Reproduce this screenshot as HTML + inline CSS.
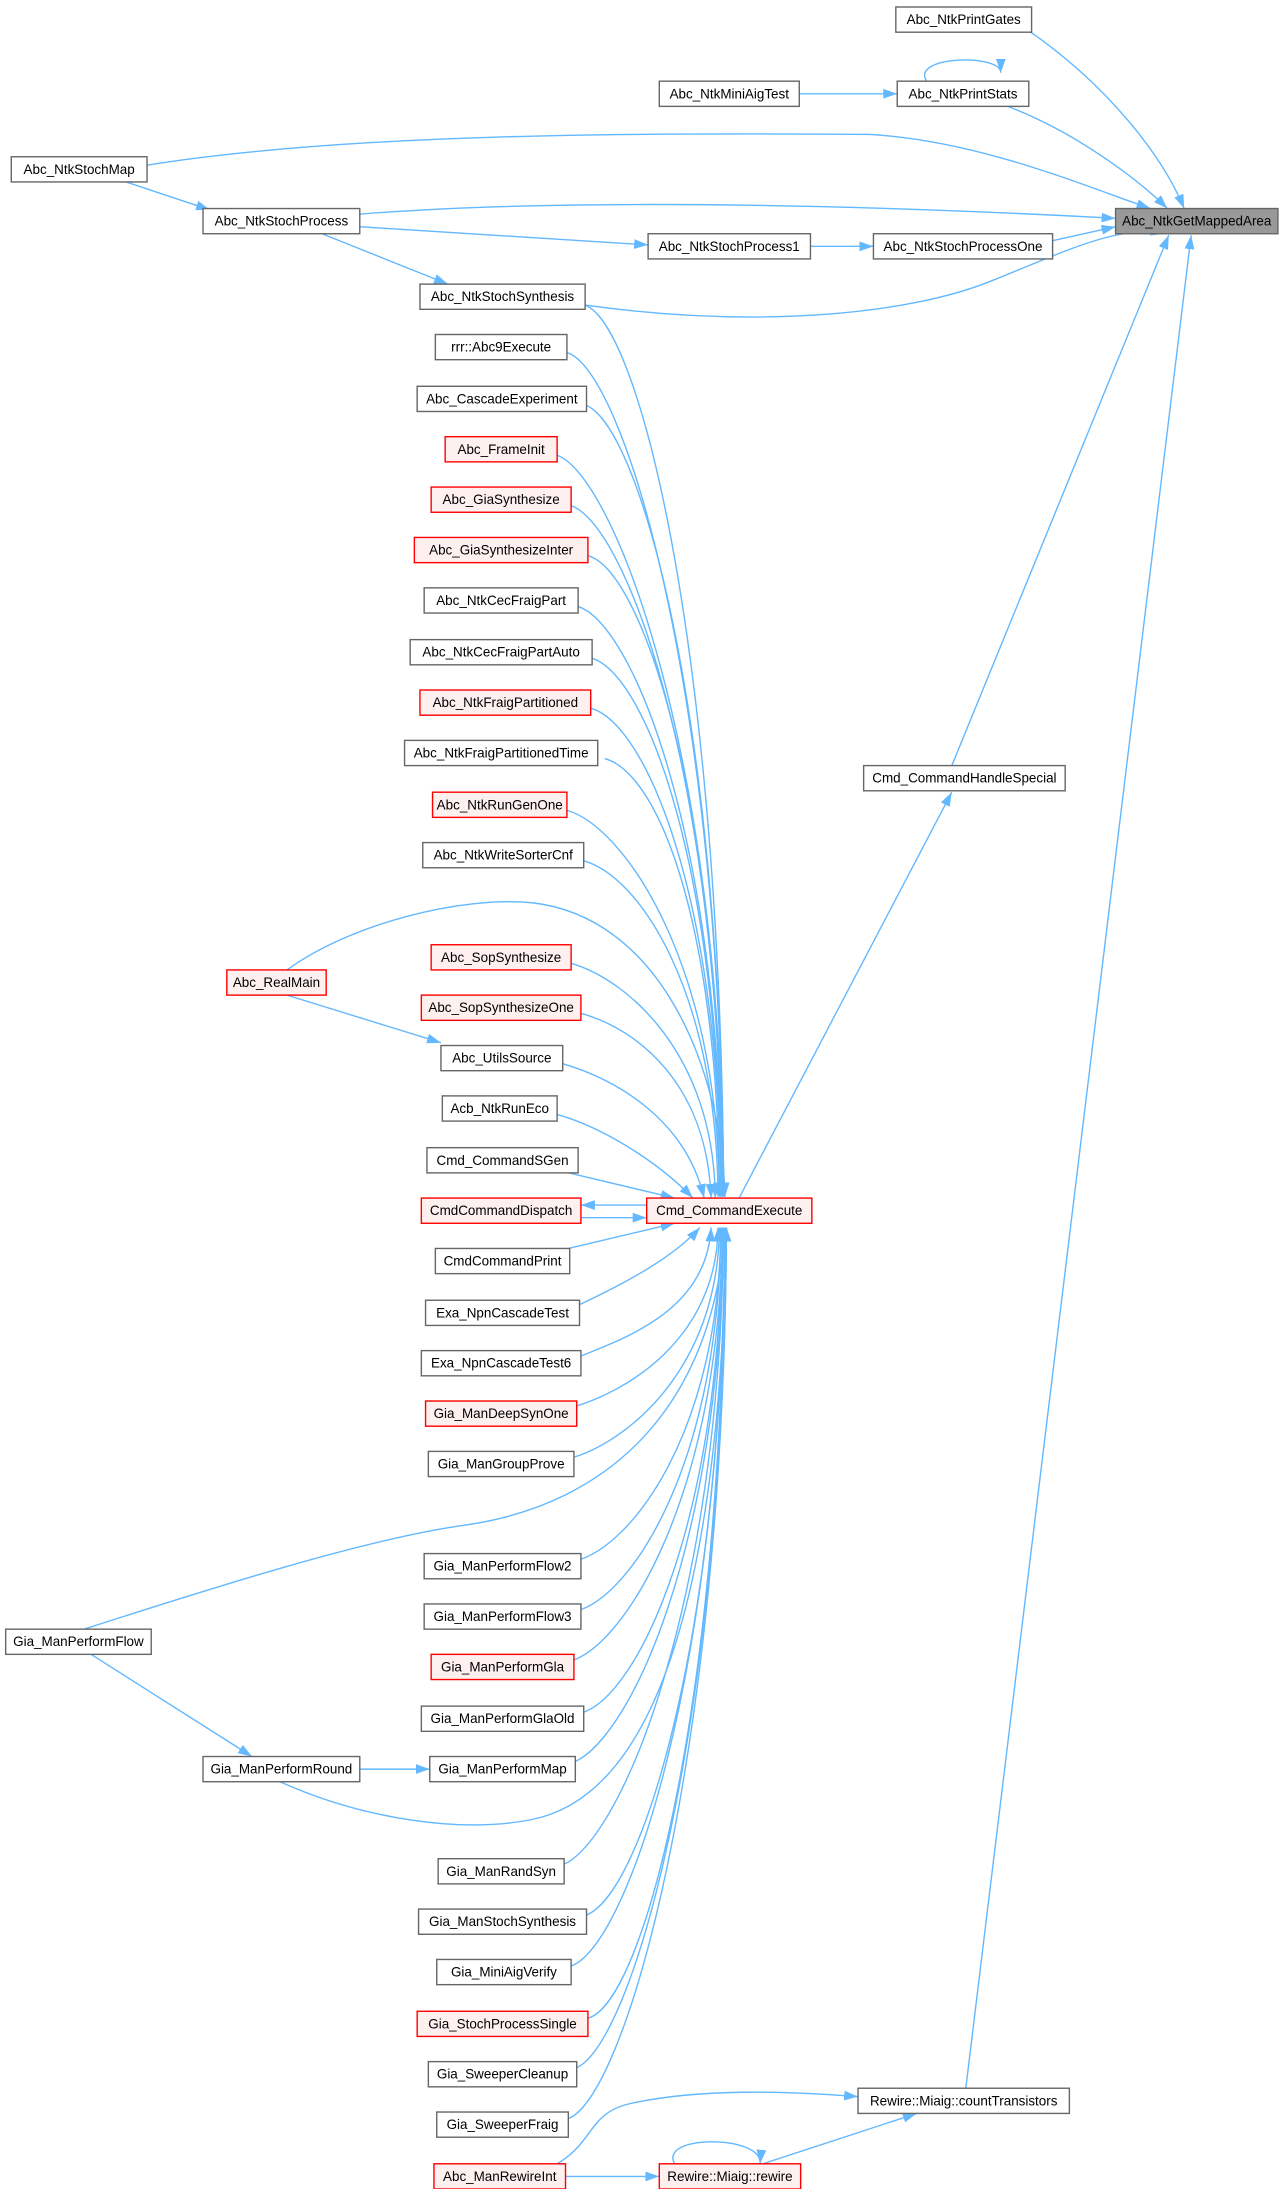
<!DOCTYPE html>
<html><head><meta charset="utf-8"><style>
html,body{margin:0;padding:0;background:#fff;}
svg{display:block;}
text{font-family:"Liberation Sans",Arial,sans-serif;font-size:9.6px;fill:#000;text-anchor:middle;dominant-baseline:central;}
.b{fill:#fff;stroke:#666;stroke-width:1;}
.r{fill:#fff0f0;stroke:#f00;stroke-width:1;}
.g{fill:#999;stroke:#666;stroke-width:1;}
.e{fill:none;stroke:#63b8ff;stroke-width:1;marker-end:url(#a);}
</style></head><body>
<svg width="1285" height="2189" viewBox="0 0 918 1564" xmlns="http://www.w3.org/2000/svg">
<defs><marker id="a" markerUnits="userSpaceOnUse" markerWidth="10" markerHeight="7" refX="10" refY="3.5" orient="auto"><path d="M0,0 L10,3.5 L0,7 z" fill="#63b8ff"/></marker></defs>

<path class="e" d="M735,22 C790,60 830,110 846,149"/>
<path class="e" d="M720,76 C770,95 815,130 834,149"/>
<path class="e" d="M105,118 C250,95 450,95 620,96 C700,100 780,135 822,149"/>
<path class="e" d="M257,153 C420,140 650,148 797,156"/>
<path class="e" d="M752,172 L797,162"/>
<path class="e" d="M418,218 C540,235 650,225 710,200 C760,180 800,160 832,167"/>
<path class="e" d="M680,547 L835,168"/>
<path class="e" d="M690,1492 L851,168"/>
<path class="e" d="M90,130 L150,150"/>
<path class="e" d="M257,162 L463,175"/>
<path class="e" d="M579,176 L624,176"/>
<path class="e" d="M230,167 L320,203"/>
<path class="e" d="M571,67 L641,67"/>
<path class="e" d="M662,58 C650,40 715,38 715,52"/>
<path class="e" d="M528,856 L680,566"/>
<path class="e" d="M418,218 C458,233 515,470 517,855"/>
<path class="e" d="M405,252 C445,263 515,491 517,855"/>
<path class="e" d="M417,289 C457,300 515,513 517,855"/>
<path class="e" d="M397,325 C437,336 515,535 517,855"/>
<path class="e" d="M407,361 C447,372 515,556 516,855"/>
<path class="e" d="M420,397 C460,408 515,578 516,855"/>
<path class="e" d="M412,433 C452,444 514,599 516,855"/>
<path class="e" d="M422,470 C462,481 514,622 515,855"/>
<path class="e" d="M422,506 C462,517 514,643 515,855"/>
<path class="e" d="M432,542 C472,553 513,665 514,855"/>
<path class="e" d="M405,579 C445,590 513,687 514,855"/>
<path class="e" d="M417,615 C457,626 512,709 513,855"/>
<path class="e" d="M407,688 C447,699 510,752 511,856"/>
<path class="e" d="M415,724 C455,735 505,774 508,856"/>
<path class="e" d="M402,760 C440,771 490,800 503,856"/>
<path class="e" d="M397,796 C430,805 470,830 495,856"/>
<path class="e" d="M402,837 L482,856"/>
<path class="e" d="M205,693 C250,660 330,640 380,645 C470,655 515,760 518,855"/>
<path class="e" d="M462,861 L415,861"/>
<path class="e" d="M415,870 L462,870"/>
<path class="e" d="M402,893 L482,874"/>
<path class="e" d="M410,934 C440,920 480,900 500,877"/>
<path class="e" d="M412,970 C450,955 505,935 508,877"/>
<path class="e" d="M407,1006 C447,995 512,957 513,877"/>
<path class="e" d="M407,1042 C447,1031 513,979 514,877"/>
<path class="e" d="M412,1115 C452,1104 514,1022 515,877"/>
<path class="e" d="M412,1151 C452,1140 514,1044 515,877"/>
<path class="e" d="M407,1187 C447,1176 515,1065 516,877"/>
<path class="e" d="M415,1224 C455,1213 515,1088 516,877"/>
<path class="e" d="M407,1260 C447,1249 515,1109 517,877"/>
<path class="e" d="M400,1333 C440,1322 515,1153 517,877"/>
<path class="e" d="M417,1369 C457,1358 516,1175 518,877"/>
<path class="e" d="M407,1405 C447,1394 516,1196 518,877"/>
<path class="e" d="M420,1442 C460,1431 516,1218 518,877"/>
<path class="e" d="M410,1478 C450,1467 517,1239 519,877"/>
<path class="e" d="M405,1514 C445,1503 517,1261 519,877"/>
<path class="e" d="M60,1164 C150,1135 260,1100 330,1090 C440,1075 510,1000 518,877"/>
<path class="e" d="M200,1273 C260,1300 330,1310 380,1300 C480,1280 515,1100 519,877"/>
<path class="e" d="M205,711 L315,745"/>
<path class="e" d="M65,1182 L180,1255"/>
<path class="e" d="M257,1264 L307,1264"/>
<path class="e" d="M398,1546 C425,1530 420,1510 450,1503 C500,1492 560,1494 613,1498"/>
<path class="e" d="M404,1555 L471,1555"/>
<path class="e" d="M482,1546 C470,1525 545,1525 543,1546"/>
<path class="e" d="M545,1546 L655,1510"/>

<rect class="g" x="797" y="149" width="116" height="18"/><text x="855" y="158">Abc_NtkGetMappedArea</text>
<rect class="b" x="640" y="5" width="97" height="18"/><text x="688.5" y="14">Abc_NtkPrintGates</text>
<rect class="b" x="641" y="58" width="94" height="18"/><text x="688" y="67">Abc_NtkPrintStats</text>
<rect class="b" x="471" y="58" width="100" height="18"/><text x="521" y="67">Abc_NtkMiniAigTest</text>
<rect class="b" x="8" y="112" width="97" height="18"/><text x="56.5" y="121">Abc_NtkStochMap</text>
<rect class="b" x="145" y="149" width="112" height="18"/><text x="201" y="158">Abc_NtkStochProcess</text>
<rect class="b" x="463" y="167" width="116" height="18"/><text x="521" y="176">Abc_NtkStochProcess1</text>
<rect class="b" x="624" y="167" width="128" height="18"/><text x="688" y="176">Abc_NtkStochProcessOne</text>
<rect class="b" x="300" y="203" width="118" height="18"/><text x="359" y="212">Abc_NtkStochSynthesis</text>
<rect class="b" x="617" y="547" width="144" height="18"/><text x="689" y="556">Cmd_CommandHandleSpecial</text>
<rect class="r" x="462" y="856" width="118" height="18"/><text x="521" y="865">Cmd_CommandExecute</text>
<rect class="r" x="162" y="693" width="71" height="18"/><text x="197.5" y="702">Abc_RealMain</text>
<rect class="b" x="4" y="1164" width="104" height="18"/><text x="56" y="1173">Gia_ManPerformFlow</text>
<rect class="b" x="145" y="1255" width="112" height="18"/><text x="201" y="1264">Gia_ManPerformRound</text>
<rect class="b" x="613" y="1492" width="151" height="18"/><text x="688.5" y="1501">Rewire::Miaig::countTransistors</text>
<rect class="r" x="471" y="1546" width="101" height="18"/><text x="521.5" y="1555">Rewire::Miaig::rewire</text>

<rect class="b" x="311" y="239" width="94" height="18"/><text x="358" y="248">rrr::Abc9Execute</text>
<rect class="b" x="298" y="276" width="121" height="18"/><text x="358.5" y="285">Abc_CascadeExperiment</text>
<rect class="r" x="318" y="312" width="80" height="18"/><text x="358" y="321">Abc_FrameInit</text>
<rect class="r" x="308" y="348" width="100" height="18"/><text x="358" y="357">Abc_GiaSynthesize</text>
<rect class="r" x="296" y="384" width="124" height="18"/><text x="358" y="393">Abc_GiaSynthesizeInter</text>
<rect class="b" x="303" y="420" width="110" height="18"/><text x="358" y="429">Abc_NtkCecFraigPart</text>
<rect class="b" x="293" y="457" width="130" height="18"/><text x="358" y="466">Abc_NtkCecFraigPartAuto</text>
<rect class="r" x="300" y="493" width="122" height="18"/><text x="361" y="502">Abc_NtkFraigPartitioned</text>
<rect class="b" x="289" y="529" width="138" height="18"/><text x="358" y="538">Abc_NtkFraigPartitionedTime</text>
<rect class="r" x="309" y="566" width="96" height="18"/><text x="357" y="575">Abc_NtkRunGenOne</text>
<rect class="b" x="302" y="602" width="115" height="18"/><text x="359.5" y="611">Abc_NtkWriteSorterCnf</text>
<rect class="r" x="308" y="675" width="100" height="18"/><text x="358" y="684">Abc_SopSynthesize</text>
<rect class="r" x="301" y="711" width="114" height="18"/><text x="358" y="720">Abc_SopSynthesizeOne</text>
<rect class="b" x="315" y="747" width="87" height="18"/><text x="358.5" y="756">Abc_UtilsSource</text>
<rect class="b" x="316" y="783" width="82" height="18"/><text x="357" y="792">Acb_NtkRunEco</text>
<rect class="b" x="305" y="820" width="108" height="18"/><text x="359" y="829">Cmd_CommandSGen</text>
<rect class="r" x="301" y="856" width="114" height="18"/><text x="358" y="865">CmdCommandDispatch</text>
<rect class="b" x="311" y="892" width="96" height="18"/><text x="359" y="901">CmdCommandPrint</text>
<rect class="b" x="304" y="929" width="110" height="18"/><text x="359" y="938">Exa_NpnCascadeTest</text>
<rect class="b" x="301" y="965" width="114" height="18"/><text x="358" y="974">Exa_NpnCascadeTest6</text>
<rect class="r" x="304" y="1001" width="108" height="18"/><text x="358" y="1010">Gia_ManDeepSynOne</text>
<rect class="b" x="306" y="1037" width="104" height="18"/><text x="358" y="1046">Gia_ManGroupProve</text>
<rect class="b" x="303" y="1110" width="112" height="18"/><text x="359" y="1119">Gia_ManPerformFlow2</text>
<rect class="b" x="303" y="1146" width="112" height="18"/><text x="359" y="1155">Gia_ManPerformFlow3</text>
<rect class="r" x="308" y="1182" width="102" height="18"/><text x="359" y="1191">Gia_ManPerformGla</text>
<rect class="b" x="301" y="1219" width="116" height="18"/><text x="359" y="1228">Gia_ManPerformGlaOld</text>
<rect class="b" x="307" y="1255" width="104" height="18"/><text x="359" y="1264">Gia_ManPerformMap</text>
<rect class="b" x="313" y="1328" width="90" height="18"/><text x="358" y="1337">Gia_ManRandSyn</text>
<rect class="b" x="299" y="1364" width="120" height="18"/><text x="359" y="1373">Gia_ManStochSynthesis</text>
<rect class="b" x="312" y="1400" width="96" height="18"/><text x="360" y="1409">Gia_MiniAigVerify</text>
<rect class="r" x="298" y="1437" width="122" height="18"/><text x="359" y="1446">Gia_StochProcessSingle</text>
<rect class="b" x="306" y="1473" width="106" height="18"/><text x="359" y="1482">Gia_SweeperCleanup</text>
<rect class="b" x="312" y="1509" width="94" height="18"/><text x="359" y="1518">Gia_SweeperFraig</text>
<rect class="r" x="310" y="1546" width="94" height="18"/><text x="357" y="1555">Abc_ManRewireInt</text>
</svg>
</body></html>
